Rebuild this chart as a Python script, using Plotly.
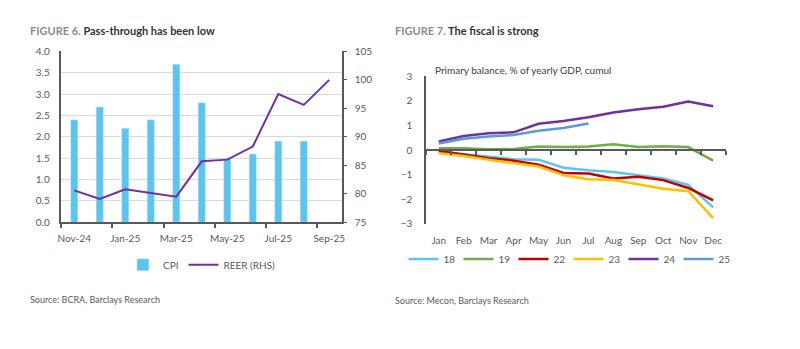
import plotly.graph_objects as go

# ---------- Figure 6 data ----------
months6 = ["Nov-24", "Dec-24", "Jan-25", "Feb-25", "Mar-25", "Apr-25",
           "May-25", "Jun-25", "Jul-25", "Aug-25", "Sep-25"]
cpi = [2.4, 2.7, 2.2, 2.4, 3.7, 2.8, 1.5, 1.6, 1.9, 1.9, None]
reer = [80.6, 79.1, 80.8, 80.2, 79.5, 85.7, 86.0, 88.3, 97.5, 95.6, 100.0]

# ---------- Figure 7 data ----------
months7 = ["Jan", "Feb", "Mar", "Apr", "May", "Jun", "Jul", "Aug", "Sep", "Oct", "Nov", "Dec"]
pb18 = [-0.07, -0.17, -0.27, -0.37, -0.39, -0.72, -0.82, -0.89, -1.02, -1.15, -1.41, -2.33]
pb19 = [0.07, 0.07, 0.03, 0.04, 0.14, 0.12, 0.15, 0.24, 0.12, 0.16, 0.12, -0.43]
pb22 = [-0.04, -0.20, -0.33, -0.43, -0.59, -0.93, -0.95, -1.15, -1.08, -1.22, -1.54, -2.04]
pb23 = [-0.13, -0.24, -0.39, -0.52, -0.67, -1.02, -1.18, -1.22, -1.39, -1.57, -1.67, -2.76]
pb24 = [0.35, 0.57, 0.68, 0.72, 1.07, 1.18, 1.33, 1.53, 1.66, 1.76, 1.97, 1.78]
pb25 = [0.27, 0.46, 0.55, 0.61, 0.78, 0.90, 1.08]
series7 = [("18", pb18, "#5bc5f2"), ("19", pb19, "#70ad47"), ("22", pb22, "#c00000"),
           ("23", pb23, "#ffc000"), ("24", pb24, "#7030a0"), ("25", pb25, "#5b9bd5")]

FONT = "Lato"
GRAY = "#595959"
W, H = 800, 349

def px_x(p):
    return p / W

def px_y(p):
    return (H - p) / H

fig = go.Figure()

fig.add_trace(go.Bar(x=months6, y=cpi, name="CPI", marker_color="#5bc5f2",
                     xaxis="x", yaxis="y", legend="legend"))
fig.add_trace(go.Scatter(x=months6, y=reer, name="REER (RHS)", mode="lines",
                         line=dict(color="#7030a0", width=2),
                         xaxis="x", yaxis="y2", legend="legend"))

for name, vals, col in series7:
    fig.add_trace(go.Scatter(x=months7[:len(vals)], y=vals, name=name, mode="lines",
                             line=dict(color=col, width=2.5),
                             xaxis="x2", yaxis="y3", legend="legend2"))

# dummy trace to materialise the zero-line axis
fig.add_trace(go.Scatter(x=[], y=[], xaxis="x3", yaxis="y3", showlegend=False))

tickfont = dict(family=FONT, size=10, color=GRAY)

fig.update_layout(
    width=W, height=H,
    margin=dict(l=0, r=0, t=0, b=0),
    paper_bgcolor="white", plot_bgcolor="white",
    font=dict(family=FONT, color=GRAY),
    bargap=0.715,
    xaxis=dict(domain=[px_x(58), px_x(341)], anchor="y", type="category",
               categoryorder="array", categoryarray=months6,
               tickmode="linear", tick0=0, dtick=2, tickson="boundaries",
               ticks="outside", ticklen=4, tickcolor=GRAY, tickwidth=1.5,
               showline=True, linecolor=GRAY, linewidth=1.5, tickangle=0,
               showgrid=False, tickfont=tickfont, range=[-0.5, 10.5],
               ticklabelstandoff=6),
    yaxis=dict(domain=[px_y(224), px_y(47)], anchor="x", range=[0, 4], dtick=0.5,
               tickformat=".1f", showgrid=True, gridcolor="#d9d9d9", gridwidth=1,
               showline=True, linecolor=GRAY, linewidth=1.5, zeroline=False,
               ticks="", ticklabelstandoff=8, tickfont=tickfont),
    yaxis2=dict(overlaying="y", anchor="x", side="right", range=[75, 105], dtick=5,
                showgrid=False, showline=True, linecolor=GRAY, linewidth=1.5,
                zeroline=False, ticks="outside", ticklen=3, tickcolor=GRAY,
                ticklabelstandoff=6, tickfont=tickfont),
    xaxis2=dict(domain=[px_x(426), px_x(728)], anchor="y3", type="category",
                categoryorder="array", categoryarray=months7, range=[-0.5, 11.5],
                showline=False, ticks="", showgrid=False, ticklabelstandoff=9,
                tickangle=0, tickfont=tickfont),
    xaxis3=dict(overlaying="x2", anchor="free", position=px_y(149), type="linear",
                range=[-0.5, 11.5], tickmode="array",
                tickvals=[i - 0.5 for i in range(13)],
                ticks="outside", ticklen=4, tickcolor=GRAY, tickwidth=1.5,
                showticklabels=False, showline=True, linecolor=GRAY, linewidth=1.5,
                showgrid=False, zeroline=False),
    yaxis3=dict(domain=[px_y(225.7), px_y(72.7)], anchor="x2", range=[-3, 3], dtick=1,
                showgrid=False, zeroline=False, showline=True, linecolor=GRAY,
                linewidth=2, ticks="", ticklabelstandoff=10, tickfont=tickfont),
    legend=dict(orientation="h", x=px_x(120), xanchor="left", y=px_y(268),
                yanchor="middle", font=dict(family=FONT, size=10, color=GRAY),
                bgcolor="rgba(0,0,0,0)", borderwidth=0),
    legend2=dict(orientation="h", x=px_x(403), xanchor="left", y=px_y(262),
                 yanchor="middle", font=dict(family=FONT, size=10, color=GRAY),
                 entrywidth=10, entrywidthmode="pixels",
                 bgcolor="rgba(0,0,0,0)", borderwidth=0),
    showlegend=True,
)

annotations = [
    dict(text="<b><span style='color:#8c8c8c'>FIGURE 6.</span> Pass-through has been low</b>",
         x=px_x(24), y=px_y(25), xanchor="left", yanchor="middle",
         font=dict(family=FONT, size=11, color="#333333")),
    dict(text="<b><span style='color:#8c8c8c'>FIGURE 7.</span> The fiscal is strong</b>",
         x=px_x(392), y=px_y(25), xanchor="left", yanchor="middle",
         font=dict(family=FONT, size=11, color="#333333")),
    dict(text="Primary balance, % of yearly GDP, cumul",
         x=px_x(433), y=px_y(66), xanchor="left", yanchor="middle",
         font=dict(family=FONT, size=10, color="#404040")),
    dict(text="Source: BCRA, Barclays Research",
         x=px_x(24), y=px_y(304), xanchor="left", yanchor="middle",
         font=dict(family=FONT, size=9, color=GRAY)),
    dict(text="Source: Mecon, Barclays Research",
         x=px_x(392), y=px_y(305), xanchor="left", yanchor="middle",
         font=dict(family=FONT, size=9, color=GRAY)),
]
for a in annotations:
    a.update(xref="paper", yref="paper", showarrow=False)
fig.update_layout(annotations=annotations)

fig.write_html("out.html")
